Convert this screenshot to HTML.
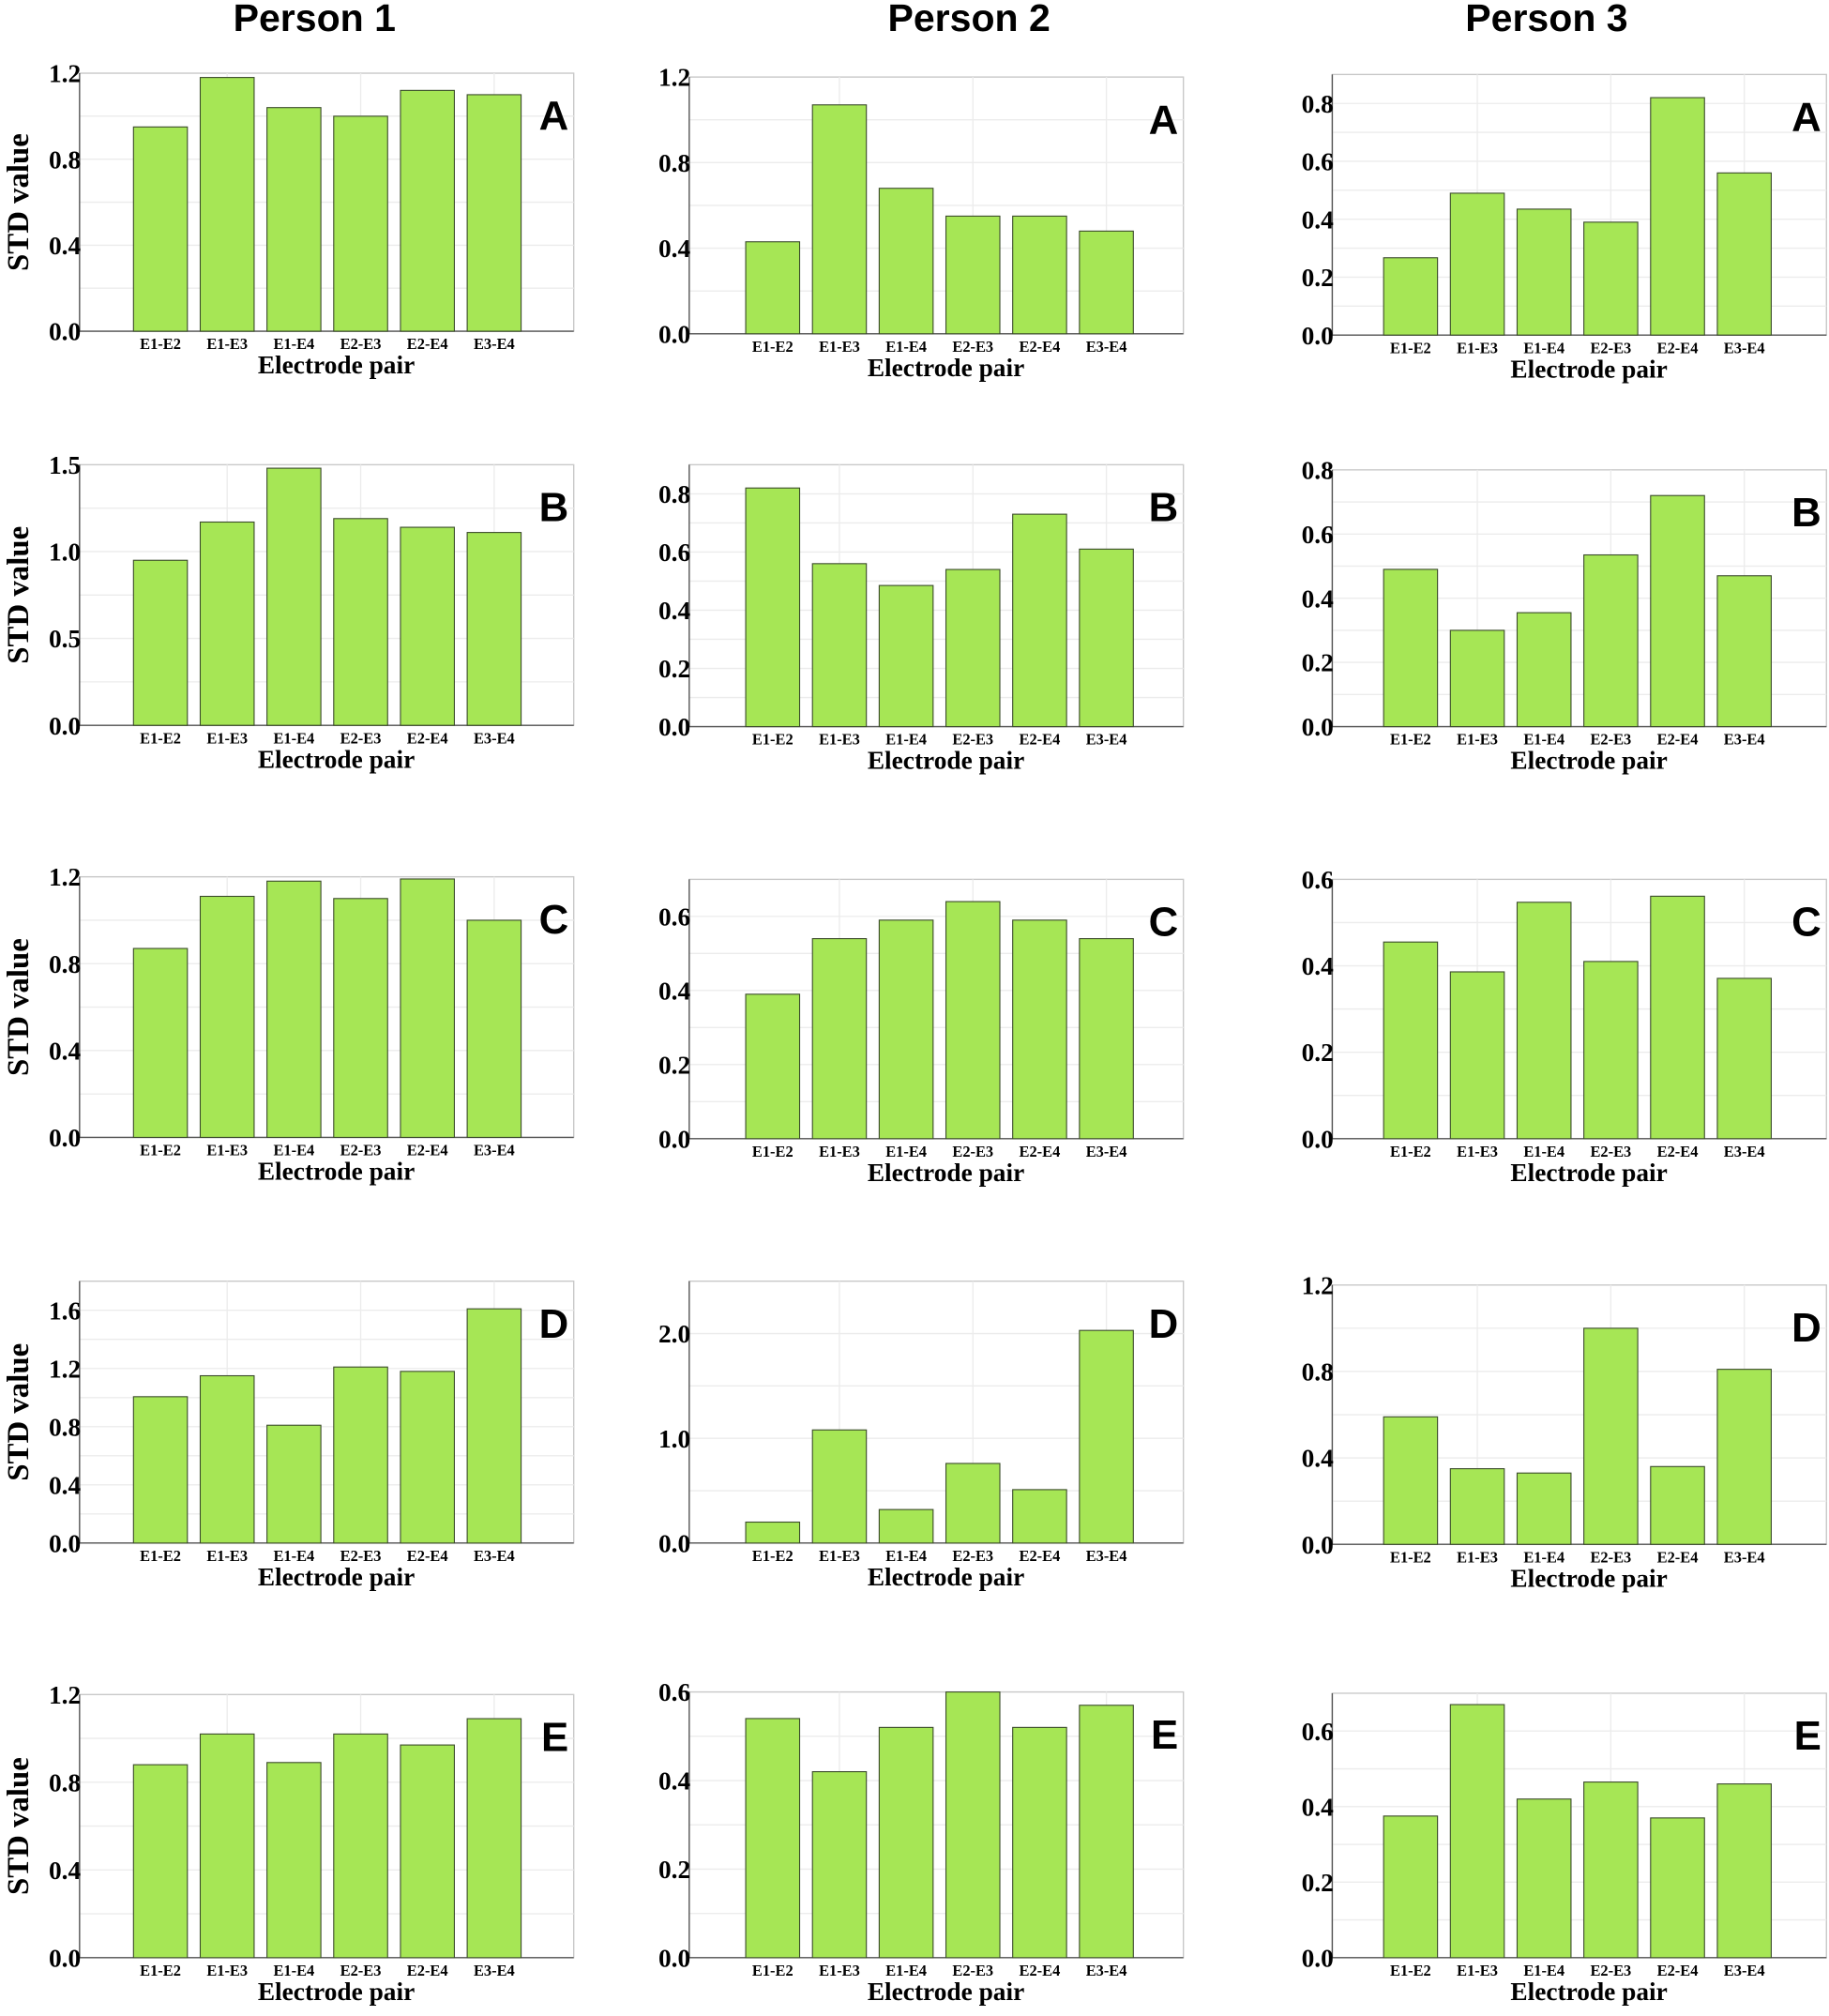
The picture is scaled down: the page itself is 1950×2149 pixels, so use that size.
<!DOCTYPE html>
<html><head><meta charset="utf-8"><style>
html,body{margin:0;padding:0;background:#fff}
svg{display:block}
</style></head><body>
<svg id="fig" width="1950" height="2149" viewBox="0 0 1425 1570.4" xmlns="http://www.w3.org/2000/svg"></svg>
<script>
const categories = ["E1-E2","E1-E3","E1-E4","E2-E3","E2-E4","E3-E4"];
const persons = ["Person 1","Person 2","Person 3"];
const letters = ["A","B","C","D","E"];
const valsA1=[0.95,1.18,1.04,1.00,1.12,1.10], valsA2=[0.43,1.07,0.68,0.55,0.55,0.48], valsA3=[0.267,0.49,0.435,0.39,0.82,0.56];
const valsB1=[0.95,1.17,1.48,1.19,1.14,1.11], valsB2=[0.82,0.56,0.485,0.54,0.73,0.61], valsB3=[0.49,0.30,0.355,0.535,0.72,0.47];
const valsC1=[0.87,1.11,1.18,1.10,1.19,1.00], valsC2=[0.39,0.54,0.59,0.64,0.59,0.54], valsC3=[0.455,0.386,0.547,0.41,0.561,0.371];
const valsD1=[1.006,1.15,0.81,1.21,1.18,1.61], valsD2=[0.2,1.08,0.32,0.76,0.51,2.03], valsD3=[0.59,0.35,0.33,1.00,0.36,0.81];
const valsE1=[0.88,1.02,0.89,1.02,0.97,1.09], valsE2=[0.54,0.42,0.52,0.60,0.52,0.57], valsE3=[0.375,0.67,0.42,0.465,0.37,0.46];
const yMax=[[1.2,1.2,0.9],[1.5,0.9,0.8],[1.2,0.7,0.6],[1.8,2.5,1.2],[1.2,0.6,0.7]];
const majorTicks=[[[0,0.4,0.8,1.2],[0,0.4,0.8,1.2],[0,0.2,0.4,0.6,0.8]],
 [[0,0.5,1.0,1.5],[0,0.2,0.4,0.6,0.8],[0,0.2,0.4,0.6,0.8]],
 [[0,0.4,0.8,1.2],[0,0.2,0.4,0.6],[0,0.2,0.4,0.6]],
 [[0,0.4,0.8,1.2,1.6],[0,1.0,2.0],[0,0.4,0.8,1.2]],
 [[0,0.4,0.8,1.2],[0,0.2,0.4,0.6],[0,0.2,0.4,0.6]]];
const values=[[valsA1,valsA2,valsA3],[valsB1,valsB2,valsB3],[valsC1,valsC2,valsC3],[valsD1,valsD2,valsD3],[valsE1,valsE2,valsE3]];

const NS="http://www.w3.org/2000/svg";
const svg=document.getElementById('fig');
function mk(tag,attrs,parent,text){const e=document.createElementNS(NS,tag);for(const k in attrs)e.setAttribute(k,attrs[k]);if(text!==undefined)e.textContent=text;(parent||svg).appendChild(e);return e;}
const colLeft=[62,537,1038], colW=385, barOff=[63,65,61];
const rowBox=[[[57,258],[60,260],[58,261]],[[362,565],[362,566],[366,566]],[[683,886],[685,887],[685,887]],[[998,1202],[998,1202],[1001,1203]],[[1320,1525],[1318,1525],[1319,1525]]];
const titleX=[245,755,1205];
persons.forEach((p,i)=>{const t=mk('text',{x:titleX[i],y:24,'text-anchor':'middle','font-family':'Liberation Sans, sans-serif','font-weight':'bold','font-size':30},svg,p);

});
for(let r=0;r<5;r++)for(let c=0;c<3;c++){
  const g=mk('g',{});
  
  
  const L=colLeft[c],T=rowBox[r][c][0],B=rowBox[r][c][1],H=B-T,M=yMax[r][c];
  const yS=v=>B-v/M*H, xS=i=>L+barOff[c]+i*52;
  mk('rect',{x:L,y:T,width:colW,height:H,fill:'#fff',stroke:'#c8c8c8','stroke-width':1},g);
  const step=majorTicks[r][c][1]/2;
  for(let v=step;v<M-1e-6;v+=step){mk('line',{x1:L,x2:L+colW,y1:yS(v),y2:yS(v),stroke:'#ececec','stroke-width':1},g);}
  [1.5,3.5,5.5].forEach(k=>mk('line',{x1:xS(k-1)+26,x2:xS(k-1)+26,y1:T,y2:B,stroke:'#ececec','stroke-width':1},g));
  mk('line',{x1:L,x2:L,y1:T,y2:B,stroke:'#555','stroke-width':1},g);
  mk('line',{x1:L,x2:L+colW,y1:B,y2:B,stroke:'#555','stroke-width':1},g);
  values[r][c].forEach((v,i)=>{const b=mk('rect',{x:xS(i)-21,y:yS(v),width:42,height:B-yS(v),fill:'#a6e655',stroke:'#3a4a2a','stroke-width':0.8},g);
    
    
    const t=mk('text',{x:xS(i),y:B+14,'text-anchor':'middle','font-family':'Liberation Serif, serif','font-weight':'bold','font-size':12},g,categories[i]);
    
    });
  majorTicks[r][c].forEach(v=>{const t=mk('text',{x:L+1,y:yS(v)+7,'text-anchor':'end','font-family':'Liberation Serif, serif','font-weight':'bold','font-size':20},g,v.toFixed(1));
    
    });
  const xt=mk('text',{x:L+200,y:B+33,'text-anchor':'middle','font-family':'Liberation Serif, serif','font-weight':'bold','font-size':20},g,'Electrode pair');
  
  
  const lt=mk('text',{x:L+colW-4,y:T+44,'text-anchor':'end','font-family':'Liberation Sans, sans-serif','font-weight':'bold','font-size':32},g,letters[r]);
  
  
  if(c===0){const yt=mk('text',{x:0,y:0,transform:'translate(22,'+((T+B)/2)+') rotate(-90)','text-anchor':'middle','font-family':'Liberation Serif, serif','font-weight':'bold','font-size':24},g,'STD value');
    
    }
}
</script>
</body></html>
